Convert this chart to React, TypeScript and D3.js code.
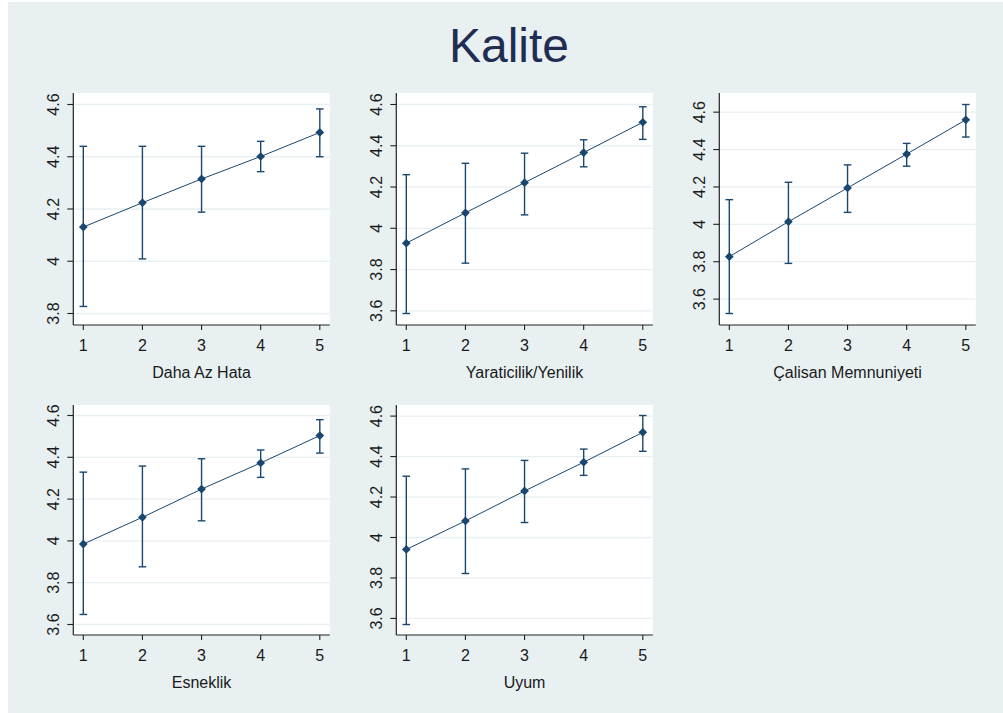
import React from 'react';
import * as d3 from 'd3';

const title = 'Kalite';
const panelTitles = ['Daha Az Hata', 'Yaraticilik/Yenilik', 'Çalisan Memnuniyeti', 'Esneklik', 'Uyum'];
const levels = [1, 2, 3, 4, 5];

const means = [
  [4.131, 4.224, 4.315, 4.401, 4.493],
  [3.928, 4.075, 4.221, 4.367, 4.514],
  [3.827, 4.014, 4.195, 4.376, 4.559],
  [3.985, 4.113, 4.248, 4.373, 4.504],
  [3.941, 4.082, 4.23, 4.372, 4.52],
];
const lower = [
  [3.827, 4.009, 4.188, 4.343, 4.4],
  [3.587, 3.831, 4.065, 4.298, 4.431],
  [3.523, 3.791, 4.064, 4.311, 4.467],
  [3.648, 3.876, 4.096, 4.304, 4.42],
  [3.57, 3.822, 4.074, 4.307, 4.426],
];
const upper = [
  [4.44, 4.44, 4.44, 4.459, 4.583],
  [4.26, 4.315, 4.364, 4.429, 4.589],
  [4.132, 4.225, 4.318, 4.433, 4.641],
  [4.329, 4.358, 4.393, 4.435, 4.58],
  [4.303, 4.339, 4.381, 4.437, 4.603],
];
const yTicks = [
  [3.8, 4, 4.2, 4.4, 4.6],
  [3.6, 3.8, 4, 4.2, 4.4, 4.6],
  [3.6, 3.8, 4, 4.2, 4.4, 4.6],
  [3.6, 3.8, 4, 4.2, 4.4, 4.6],
  [3.6, 3.8, 4, 4.2, 4.4, 4.6],
];

const W = 1003;
const H = 713;
const bg = '#e8f0f2';
const navy = '#1a476f';
const font = '"Liberation Sans", Arial, sans-serif';

const Panel = ({ idx }: { idx: number }) => {
  const col = idx % 3;
  const row = Math.floor(idx / 3);
  const left = 73.3 + col * 323;
  const pw = 256.5;
  const top = row === 0 ? 93 : 405;
  const ph = row === 0 ? 232 : 230;
  const pad = row === 0 ? 11.5 : 10.5;

  const lo = d3.min([...lower[idx], ...yTicks[idx]]) as number;
  const hi = d3.max([...upper[idx], ...yTicks[idx]]) as number;
  const y = d3.scaleLinear().domain([lo, hi]).range([top + ph - pad, top + pad]);
  const x = d3.scaleLinear().domain([1, 5]).range([left + 10, left + pw - 10]);

  const line = d3.line<number>()
    .x((_, i) => x(levels[i]))
    .y(d => y(d));
  const diamond = d3.symbol(d3.symbolSquare, 38)();
  const fmt = (v: number) => d3.format('.1f')(v).replace(/\.0$/, '');
  const bottom = top + ph;

  return (
    <g>
      <rect x={left} y={top} width={pw} height={ph} fill="#fff" />
      {yTicks[idx].map(t => (
        <line key={t} x1={left} x2={left + pw} y1={y(t)} y2={y(t)} stroke={bg} strokeWidth={1.3} />
      ))}
      {levels.map((l, i) => (
        <g key={l} stroke={navy} strokeWidth={1.4}>
          <line x1={x(l)} x2={x(l)} y1={y(lower[idx][i])} y2={y(upper[idx][i])} />
          <line x1={x(l) - 3.8} x2={x(l) + 3.8} y1={y(lower[idx][i])} y2={y(lower[idx][i])} />
          <line x1={x(l) - 3.8} x2={x(l) + 3.8} y1={y(upper[idx][i])} y2={y(upper[idx][i])} />
        </g>
      ))}
      <path d={line(means[idx]) || ''} fill="none" stroke={navy} strokeWidth={1} />
      {levels.map((l, i) => (
        <path key={l} d={diamond || ''} fill={navy}
          transform={`translate(${x(l)},${y(means[idx][i])}) rotate(45)`} />
      ))}
      <line x1={left} x2={left} y1={top} y2={bottom} stroke="#222" strokeWidth={1.2} />
      <line x1={left} x2={left + pw} y1={bottom} y2={bottom} stroke="#222" strokeWidth={1.2} />
      {yTicks[idx].map(t => (
        <g key={t}>
          <line x1={left - 6} x2={left} y1={y(t)} y2={y(t)} stroke="#222" strokeWidth={1.1} />
          <text transform={`translate(${left - 14},${y(t)}) rotate(-90)`} textAnchor="middle"
            fontSize={16} fill="#1a1a1a" fontFamily={font}>{fmt(t)}</text>
        </g>
      ))}
      {levels.map(l => (
        <g key={l}>
          <line x1={x(l)} x2={x(l)} y1={bottom} y2={bottom + 5} stroke="#222" strokeWidth={1.1} />
          <text x={x(l)} y={bottom + 25.5} textAnchor="middle" fontSize={16} fill="#1a1a1a"
            fontFamily={font}>{l}</text>
        </g>
      ))}
      <text x={left + pw / 2} y={bottom + 52.7} textAnchor="middle" fontSize={16} fill="#1a1a1a"
        fontFamily={font}>{panelTitles[idx]}</text>
    </g>
  );
};

export default function App() {
  return (
    <svg width={W} height={H} style={{ position: 'absolute', left: 0, top: 0 }}>
      <rect width={W} height={H} fill="#fff" />
      <rect x={8} y={2} width={W - 8} height={H - 2} fill={bg} />
      <text x={509} y={61.7} textAnchor="middle" fontSize={48} fill="#1f2d52" fontFamily={font}>{title}</text>
      {panelTitles.map((_, i) => <Panel key={i} idx={i} />)}
    </svg>
  );
}
